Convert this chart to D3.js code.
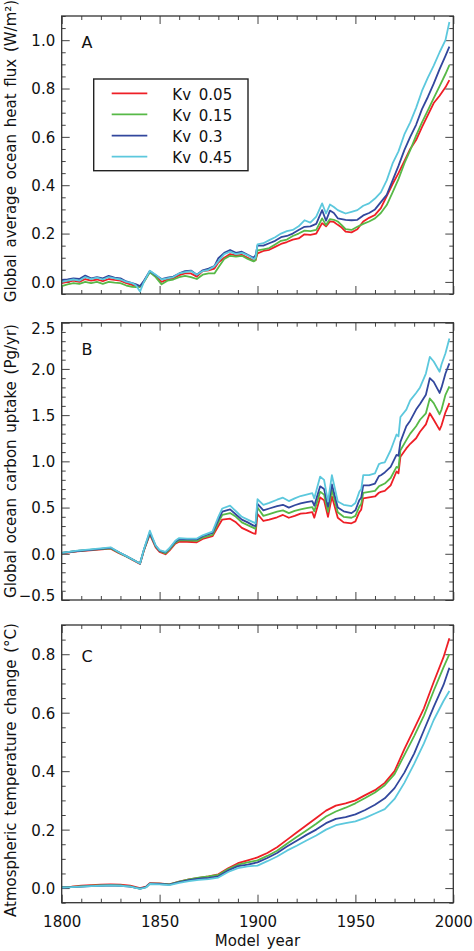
<!DOCTYPE html>
<html><head><meta charset="utf-8">
<script src="https://cdn.jsdelivr.net/npm/d3@7"></script>
<style>
html,body{margin:0;padding:0;background:#fff;}
svg{display:block;}
text{font-family:"DejaVu Sans",sans-serif;fill:#111;}
</style></head>
<body>
<svg id="chart" width="474" height="951"></svg>
<script>
// ---------- DATA ----------
const seriesNames = ["Kv 0.05", "Kv 0.15", "Kv 0.3", "Kv 0.45"];
const seriesColors = ["#ee1f26", "#57b947", "#32479d", "#5cc8dd"];

// Panel A: global average ocean heat flux (W/m2)
const yearsA = [1800,1803,1806,1809,1812,1815,1818,1821,1824,1827,
  1830,1833,1836,1838,1840,1842,1845,1848,1851,1854,
  1857,1860,1863,1866,1869,1872,1875,1878,1880,1883,
  1886,1889,1892,1895,1898,1899,1900,1903,1906,1909,
  1912,1915,1918,1921,1924,1927,1930,1933,1935,1937,
  1939,1941,1943,1945,1948,1951,1954,1957,1960,1963,
  1966,1969,1972,1975,1978,1981,1984,1987,1990,1993,
  1996,1998];
const fluxKv005 = [-0.005,0.0,0.005,0.0,0.012,0.005,0.01,0.003,0.012,0.008,
  0.005,-0.005,-0.012,-0.018,-0.02,0.002,0.042,0.025,0.0,0.01,
  0.015,0.028,0.035,0.035,0.022,0.045,0.048,0.055,0.08,0.1,
  0.115,0.11,0.112,0.1,0.088,0.09,0.118,0.128,0.133,0.145,
  0.157,0.165,0.175,0.18,0.197,0.195,0.2,0.243,0.23,0.25,
  0.248,0.236,0.225,0.208,0.205,0.218,0.25,0.265,0.277,0.305,
  0.355,0.405,0.45,0.5,0.55,0.587,0.64,0.69,0.74,0.77,
  0.805,0.835];
const fluxKv015 = [-0.017,-0.01,-0.005,-0.008,0.0,-0.005,0.0,-0.008,0.0,-0.003,
  -0.005,-0.015,-0.02,-0.022,-0.02,0.0,0.04,0.02,-0.01,0.005,
  0.01,0.02,0.025,0.02,0.012,0.03,0.035,0.035,0.06,0.095,
  0.108,0.105,0.108,0.095,0.085,0.09,0.13,0.135,0.14,0.155,
  0.17,0.175,0.19,0.2,0.212,0.21,0.215,0.263,0.235,0.26,
  0.257,0.25,0.235,0.218,0.215,0.228,0.24,0.25,0.263,0.285,
  0.318,0.37,0.425,0.49,0.545,0.605,0.66,0.71,0.76,0.81,
  0.86,0.897];
const fluxKv03 = [0.008,0.01,0.015,0.012,0.026,0.015,0.02,0.015,0.025,0.018,
  0.015,0.002,-0.005,-0.01,-0.017,0.005,0.045,0.028,0.012,0.018,
  0.022,0.035,0.045,0.047,0.03,0.048,0.055,0.065,0.098,0.12,
  0.132,0.12,0.125,0.112,0.1,0.11,0.15,0.15,0.16,0.17,
  0.185,0.19,0.2,0.215,0.228,0.23,0.24,0.297,0.253,0.295,
  0.285,0.263,0.26,0.257,0.255,0.257,0.275,0.285,0.3,0.33,
  0.36,0.42,0.48,0.545,0.6,0.65,0.715,0.765,0.82,0.88,
  0.935,0.973];
const fluxKv045 = [0.0,0.005,0.01,0.005,0.02,0.012,0.018,0.01,0.02,0.015,
  0.01,0.0,-0.005,-0.015,-0.04,0.0,0.046,0.03,0.01,0.015,
  0.02,0.035,0.04,0.045,0.03,0.045,0.05,0.065,0.085,0.115,
  0.125,0.115,0.12,0.11,0.095,0.1,0.155,0.16,0.173,0.185,
  0.2,0.21,0.215,0.23,0.255,0.245,0.27,0.325,0.283,0.32,
  0.31,0.297,0.29,0.283,0.29,0.297,0.315,0.325,0.345,0.37,
  0.42,0.49,0.54,0.61,0.66,0.72,0.79,0.845,0.895,0.95,
  1.0,1.075];

// Panel B: global ocean carbon uptake (Pg/yr)
const yearsB = [1800,1808,1816,1825,1829,1833,1836,1840,1842,1845,
  1848,1850,1853,1855,1858,1860,1864,1869,1872,1877,
  1880,1882,1886,1889,1892,1895,1898,1899,1900,1903,
  1906,1910,1913,1916,1919,1922,1925,1928,1929,1932,
  1934,1936,1938,1941,1944,1948,1950,1952,1953,1954,
  1957,1960,1962,1963,1965,1968,1971,1972,1973,1976,
  1978,1981,1983,1986,1988,1990,1993,1994,1996,1998];
const carbonKv005 = [0.005,0.025,0.04,0.055,0.01,-0.03,-0.065,-0.11,0.035,0.21,
  0.07,0.02,-0.005,0.035,0.11,0.13,0.13,0.125,0.16,0.19,
  0.3,0.37,0.38,0.34,0.28,0.25,0.22,0.215,0.43,0.355,
  0.37,0.395,0.42,0.39,0.41,0.435,0.44,0.45,0.39,0.61,
  0.58,0.4,0.62,0.39,0.34,0.33,0.35,0.45,0.48,0.6,
  0.61,0.62,0.66,0.67,0.68,0.74,0.89,0.87,1.05,1.14,
  1.19,1.25,1.32,1.4,1.52,1.45,1.34,1.39,1.53,1.63];
const carbonKv015 = [0.01,0.03,0.045,0.06,0.015,-0.028,-0.06,-0.105,0.04,0.22,
  0.08,0.03,0.005,0.045,0.12,0.145,0.145,0.14,0.175,0.205,
  0.34,0.42,0.44,0.4,0.34,0.31,0.28,0.27,0.5,0.41,
  0.43,0.455,0.47,0.44,0.465,0.48,0.495,0.505,0.46,0.67,
  0.64,0.455,0.69,0.45,0.4,0.39,0.41,0.51,0.54,0.66,
  0.67,0.68,0.73,0.74,0.76,0.82,0.94,0.93,1.12,1.23,
  1.3,1.38,1.45,1.52,1.68,1.63,1.51,1.56,1.72,1.81];
const carbonKv03 = [0.01,0.03,0.045,0.065,0.02,-0.025,-0.06,-0.105,0.045,0.23,
  0.085,0.035,0.015,0.055,0.13,0.16,0.155,0.155,0.19,0.225,
  0.37,0.455,0.48,0.425,0.37,0.34,0.305,0.3,0.54,0.47,
  0.49,0.515,0.53,0.5,0.525,0.545,0.56,0.57,0.52,0.73,
  0.7,0.51,0.75,0.5,0.46,0.44,0.47,0.58,0.61,0.74,
  0.74,0.76,0.84,0.85,0.88,0.94,1.07,1.06,1.21,1.38,
  1.44,1.56,1.62,1.72,1.9,1.86,1.74,1.8,1.95,2.06];
const carbonKv045 = [0.01,0.035,0.05,0.07,0.02,-0.025,-0.06,-0.105,0.05,0.25,
  0.09,0.04,0.02,0.06,0.14,0.17,0.165,0.165,0.2,0.24,
  0.4,0.49,0.52,0.46,0.4,0.37,0.34,0.33,0.59,0.53,
  0.55,0.585,0.607,0.57,0.6,0.625,0.64,0.655,0.6,0.835,
  0.8,0.565,0.85,0.565,0.53,0.515,0.55,0.67,0.7,0.85,
  0.85,0.87,0.97,0.98,0.99,1.12,1.29,1.27,1.48,1.56,
  1.66,1.74,1.8,1.95,2.13,2.08,1.97,2.05,2.17,2.33];

// Panel C: atmospheric temperature change (°C)
const yearsC = [1800,1805,1810,1815,1820,1825,1830,1835,1840,1843,
  1845,1850,1855,1860,1865,1870,1875,1880,1885,1890,
  1895,1900,1905,1910,1915,1920,1925,1930,1935,1940,
  1945,1950,1955,1960,1965,1970,1975,1980,1985,1990,
  1995,1998];
const tempKv005 = [0.003,0.005,0.008,0.01,0.012,0.013,0.012,0.008,0.0,0.005,
  0.017,0.016,0.013,0.022,0.03,0.035,0.04,0.047,0.068,0.085,
  0.095,0.105,0.12,0.14,0.165,0.19,0.215,0.24,0.265,0.282,
  0.29,0.3,0.318,0.335,0.36,0.4,0.475,0.545,0.615,0.705,
  0.79,0.855];
const tempKv015 = [0.003,0.004,0.006,0.008,0.009,0.01,0.009,0.006,-0.002,0.003,
  0.015,0.015,0.013,0.022,0.03,0.036,0.04,0.045,0.065,0.08,
  0.088,0.095,0.11,0.128,0.152,0.175,0.197,0.22,0.245,0.262,
  0.275,0.29,0.308,0.327,0.352,0.39,0.455,0.52,0.59,0.675,
  0.755,0.8];
const tempKv03 = [0.002,0.003,0.005,0.007,0.008,0.009,0.008,0.005,-0.002,0.003,
  0.015,0.014,0.012,0.02,0.027,0.032,0.035,0.04,0.06,0.075,
  0.08,0.088,0.103,0.12,0.142,0.162,0.182,0.2,0.222,0.237,
  0.243,0.252,0.267,0.285,0.307,0.342,0.395,0.46,0.54,0.62,
  0.695,0.754];
const tempKv045 = [0.002,0.003,0.005,0.007,0.008,0.009,0.008,0.005,-0.003,0.002,
  0.014,0.013,0.01,0.018,0.024,0.028,0.031,0.036,0.055,0.068,
  0.074,0.077,0.092,0.108,0.128,0.145,0.163,0.18,0.2,0.215,
  0.222,0.228,0.24,0.255,0.27,0.305,0.36,0.425,0.495,0.575,
  0.64,0.674];

const xTickLabels = [1800, 1850, 1900, 1950, 2000];
const panelLetters = ["A", "B", "C"];
const yTitles = ["Global average ocean heat flux (W/m\u00B2)",
                 "Global ocean carbon uptake (Pg/yr)",
                 "Atmospheric temperature change (\u00B0C)"];
const xTitle = "Model year";

// ---------- LAYOUT ----------
const svg = d3.select("#chart");
const L = 61.7, R = 453.3;
const x = d3.scaleLinear().domain([1800, 2000]).range([L, R]);

const panels = [
  {top:16, bottom:294, domain:[-0.05,1.1], major:0.2, minor:0.05,
   years:yearsA, series:[fluxKv005,fluxKv015,fluxKv03,fluxKv045],
   titleY:151, letterY:47.7},
  {top:322.7, bottom:600, domain:[-0.5,2.5], major:0.5, minor:0.1,
   years:yearsB, series:[carbonKv005,carbonKv015,carbonKv03,carbonKv045],
   titleY:461, letterY:355},
  {top:625, bottom:902.7, domain:[-0.05,0.9], major:0.2, minor:0.05,
   years:yearsC, series:[tempKv005,tempKv015,tempKv03,tempKv045],
   titleY:770, letterY:661.7}
];

function stepsIn(lo, hi, step){
  const a = Math.ceil(lo/step - 1e-6), b = Math.floor(hi/step + 1e-6);
  return d3.range(a, b+1).map(i => +(i*step).toFixed(6));
}
const xMajor = stepsIn(1800, 2000, 50);
const xMinor = stepsIn(1800, 2000, 10).filter(v => !xMajor.includes(v));

const tickColor = "#444";

panels.forEach((p, pi) => {
  const y = d3.scaleLinear().domain(p.domain).range([p.bottom, p.top]);
  const g = svg.append("g");
  const yMajor = stepsIn(p.domain[0], p.domain[1], p.major);
  const yMinor = stepsIn(p.domain[0], p.domain[1], p.minor).filter(v => !yMajor.some(m => Math.abs(m-v)<1e-6));

  function styleAxis(sel){
    sel.select(".domain").remove();
    sel.selectAll("line").attr("stroke", tickColor).attr("stroke-width", 1);
    sel.selectAll("text").style("font-family", "DejaVu Sans").style("font-size", "15px").attr("fill", "#111");
  }
  const fmt = d3.format(".1f");
  g.append("g").attr("transform", `translate(${L},0)`)
    .call(d3.axisLeft(y).tickValues(yMajor).tickSize(-8).tickPadding(6.5).tickFormat(fmt))
    .call(styleAxis)
    .call(s => s.selectAll(".tick text").attr("dy", d => {
        if (Math.abs(d - p.domain[1]) < 1e-6) return "0.75em";
        if (Math.abs(d - p.domain[0]) < 1e-6) return "0.0em";
        return "0.36em";
    }));
  g.append("g").attr("transform", `translate(${L},0)`)
    .call(d3.axisLeft(y).tickValues(yMinor).tickSize(-4).tickFormat(""))
    .call(styleAxis);
  g.append("g").attr("transform", `translate(${R},0)`)
    .call(d3.axisRight(y).tickValues(yMajor).tickSize(-8).tickFormat(""))
    .call(styleAxis);
  g.append("g").attr("transform", `translate(${R},0)`)
    .call(d3.axisRight(y).tickValues(yMinor).tickSize(-4).tickFormat(""))
    .call(styleAxis);
  g.append("g").attr("transform", `translate(0,${p.top})`)
    .call(d3.axisTop(x).tickValues(xMajor).tickSize(-8).tickFormat(""))
    .call(styleAxis);
  g.append("g").attr("transform", `translate(0,${p.top})`)
    .call(d3.axisTop(x).tickValues(xMinor).tickSize(-4).tickFormat(""))
    .call(styleAxis);
  const isLast = pi === panels.length - 1;
  g.append("g").attr("transform", `translate(0,${p.bottom})`)
    .call(d3.axisBottom(x).tickValues(xMajor).tickSize(-8).tickPadding(13.3)
      .tickFormat(isLast ? (d => xTickLabels.includes(d) ? String(d) : "") : ""))
    .call(styleAxis);
  g.append("g").attr("transform", `translate(0,${p.bottom})`)
    .call(d3.axisBottom(x).tickValues(xMinor).tickSize(-4).tickFormat(""))
    .call(styleAxis);

  const line = d3.line().x(d => x(d[0])).y(d => y(d[1]));
  p.series.forEach((vals, si) => {
    const pts = p.years.map((yr, i) => [yr, vals[i]]);
    g.append("path").datum(pts)
      .attr("d", line)
      .attr("fill", "none")
      .attr("stroke", seriesColors[si])
      .attr("stroke-width", 1.8)
      .attr("stroke-linejoin", "round");
  });

  g.append("rect").attr("x", L).attr("y", p.top)
    .attr("width", R - L).attr("height", p.bottom - p.top)
    .attr("fill", "none").attr("stroke", "#333").attr("stroke-width", 1.3);

  g.append("text").attr("x", 81.5).attr("y", p.letterY)
    .style("font-size", "16px").text(panelLetters[pi]);

  g.append("text")
    .attr("transform", `translate(16,${p.titleY}) rotate(-90)`)
    .attr("text-anchor", "middle")
    .style("font-size", "15px")
    .style("word-spacing", "2px")
    .text(yTitles[pi]);
});

svg.append("text").attr("x", (L + R) / 2).attr("y", 946)
  .attr("text-anchor", "middle").style("font-size", "15px")
  .style("word-spacing", "2px")
  .text(xTitle);

const lg = svg.append("g");
lg.append("rect").attr("x", 93.7).attr("y", 79).attr("width", 154.3).attr("height", 91.7)
  .attr("fill", "#fff").attr("stroke", "#222").attr("stroke-width", 1.4);
const legendRows = [93.3, 114.3, 135.7, 156.7];
seriesNames.forEach((n, i) => {
  lg.append("line").attr("x1", 111.7).attr("x2", 147.3)
    .attr("y1", legendRows[i]).attr("y2", legendRows[i])
    .attr("stroke", seriesColors[i]).attr("stroke-width", 1.8);
  lg.append("text").attr("x", 172.3).attr("y", legendRows[i] + 6.5)
    .style("font-size", "15px").style("word-spacing", "3px").text(n);
});
</script>
</body></html>
